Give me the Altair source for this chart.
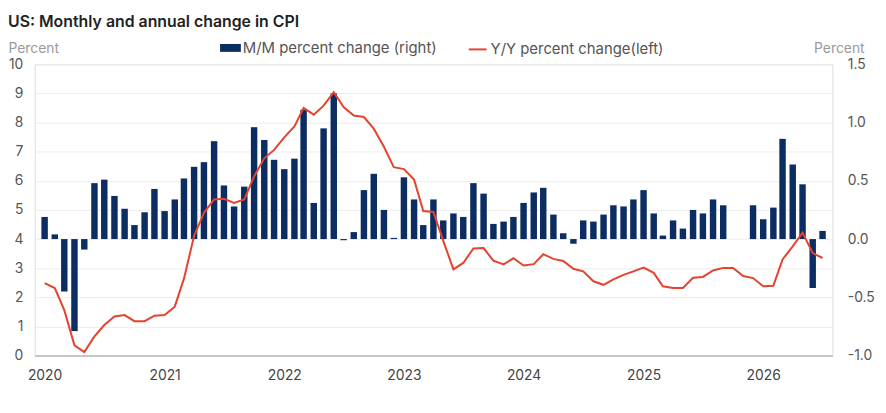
import altair as alt
import pandas as pd

# Monthly data, Jan 2020 .. Jul 2026
months = pd.date_range("2020-01-01", "2026-07-01", freq="MS").strftime("%Y-%m-%d").tolist()

# M/M percent change (right axis)
mm_2020 = [0.19, 0.04, -0.45, -0.79, -0.09, 0.48, 0.51, 0.37, 0.26, 0.12, 0.23, 0.43]
mm_2021 = [0.24, 0.34, 0.52, 0.62, 0.66, 0.84, 0.46, 0.28, 0.45, 0.96, 0.85, 0.68]
mm_2022 = [0.60, 0.69, 1.11, 0.31, 0.95, 1.25, -0.01, 0.06, 0.42, 0.56, 0.25, 0.01]
mm_2023 = [0.53, 0.34, 0.12, 0.34, 0.16, 0.22, 0.19, 0.48, 0.39, 0.13, 0.15, 0.19]
mm_2024 = [0.31, 0.40, 0.44, 0.21, 0.05, -0.04, 0.16, 0.15, 0.21, 0.29, 0.28, 0.34]
mm_2025 = [0.42, 0.22, 0.03, 0.16, 0.09, 0.25, 0.22, 0.34, 0.29, None, None, 0.29]
mm_2026 = [0.17, 0.27, 0.86, 0.64, 0.47, -0.42, 0.07]

# Y/Y percent change (left axis)
yy_2020 = [2.49, 2.32, 1.56, 0.35, 0.12, 0.66, 1.05, 1.34, 1.39, 1.18, 1.18, 1.37]
yy_2021 = [1.39, 1.68, 2.64, 4.11, 4.90, 5.36, 5.38, 5.24, 5.36, 6.15, 6.77, 7.06]
yy_2022 = [7.49, 7.87, 8.50, 8.27, 8.58, 9.04, 8.53, 8.24, 8.19, 7.79, 7.17, 6.47]
yy_2023 = [6.40, 6.04, 4.96, 4.93, 3.94, 2.96, 3.18, 3.68, 3.69, 3.26, 3.13, 3.34]
yy_2024 = [3.09, 3.14, 3.48, 3.32, 3.25, 2.98, 2.89, 2.55, 2.43, 2.62, 2.77, 2.89]
yy_2025 = [3.02, 2.84, 2.38, 2.32, 2.32, 2.67, 2.70, 2.92, 3.01, 3.01, 2.73, 2.66]
yy_2026 = [2.38, 2.40, 3.30, 3.75, 4.22, 3.52, 3.35]

mm = mm_2020 + mm_2021 + mm_2022 + mm_2023 + mm_2024 + mm_2025 + mm_2026
yy = yy_2020 + yy_2021 + yy_2022 + yy_2023 + yy_2024 + yy_2025 + yy_2026

years = [2020, 2021, 2022, 2023, 2024, 2025, 2026]
right_ticks = [-1.0, -0.5, 0.0, 0.5, 1.0, 1.5]
left_ticks = list(range(0, 11))

MM_LABEL = "M/M percent change (right)"
YY_LABEL = "Y/Y percent change(left)"

df = pd.DataFrame({"date": months, "mm": mm, "yy": yy})
df["s_mm"] = MM_LABEL
df["s_yy"] = YY_LABEL

FONT = "Inter"
NAVY = "#0b2d62"
RED = "#e5432f"
LABEL_SIZE = 14

x_enc = alt.X(
    "date:T",
    scale=alt.Scale(
        type="utc",
        domain=[
            alt.DateTime(year=2019, month=12, date=17, utc=True),
            alt.DateTime(year=2026, month=7, date=16, utc=True),
        ],
    ),
    axis=alt.Axis(
        values=[alt.DateTime(year=y, month=1, date=1, utc=True) for y in years],
        format="%Y",
        title=None,
        grid=False,
        ticks=False,
        domain=True,
        domainColor="#b8b8b8",
        domainWidth=1.5,
        labelColor="#444444",
        labelFontSize=LABEL_SIZE,
        labelPadding=13,
        labelFont=FONT,
    ),
)

bars = alt.Chart(df).mark_bar(size=6.5).encode(
    x=x_enc,
    y=alt.Y(
        "mm:Q",
        scale=alt.Scale(domain=[-1.0, 1.5], nice=False, zero=False),
        axis=alt.Axis(
            orient="right",
            values=right_ticks,
            labelExpr="(datum.value < 0 ? '-' : '') + format(abs(datum.value), '.1f')",
            grid=False,
            ticks=False,
            domain=False,
            labelColor="#555555",
            labelFontSize=LABEL_SIZE,
            labelPadding=15,
            labelFont=FONT,
            title="Percent",
            titleAngle=0,
            titleAlign="right",
            titleBaseline="alphabetic",
            titleX=32,
            titleY=-12,
            titleColor="#9a9a9a",
            titleFontWeight="normal",
            titleFontSize=LABEL_SIZE,
            titleFont=FONT,
        ),
    ),
    fill=alt.Fill(
        "s_mm:N",
        scale=alt.Scale(domain=[MM_LABEL], range=[NAVY]),
        legend=alt.Legend(
            orient="none",
            legendX=187,
            legendY=-27,
            title=None,
            symbolType="M-1,-0.38H1V0.38H-1Z",
            symbolSize=441,
            symbolStrokeWidth=0,
            labelFontSize=15,
            labelColor="#555555",
            labelFont=FONT,
            labelOffset=2,
            labelLimit=0,
        ),
    ),
)

line = alt.Chart(df).mark_line(strokeWidth=2).encode(
    x=x_enc,
    y=alt.Y(
        "yy:Q",
        scale=alt.Scale(domain=[0, 10], nice=False),
        axis=alt.Axis(
            orient="left",
            values=left_ticks,
            grid=True,
            gridColor="#ececec",
            gridWidth=1,
            ticks=False,
            domain=False,
            labelColor="#555555",
            labelFontSize=LABEL_SIZE,
            labelPadding=12,
            labelFont=FONT,
            title="Percent",
            titleAngle=0,
            titleAlign="left",
            titleBaseline="alphabetic",
            titleX=-27,
            titleY=-12,
            titleColor="#9a9a9a",
            titleFontWeight="normal",
            titleFontSize=LABEL_SIZE,
            titleFont=FONT,
        ),
    ),
    stroke=alt.Stroke(
        "s_yy:N",
        scale=alt.Scale(domain=[YY_LABEL], range=[RED]),
        legend=alt.Legend(
            orient="none",
            legendX=437,
            legendY=-25,
            title=None,
            symbolType="stroke",
            symbolSize=324,
            symbolStrokeWidth=2,
            labelFontSize=15,
            labelColor="#555555",
            labelFont=FONT,
            labelOffset=3,
            labelLimit=0,
        ),
    ),
)

chart = (
    alt.layer(bars, line)
    .resolve_scale(y="independent", fill="independent", stroke="independent")
    .properties(
        width=805,
        height=294,
        autosize=alt.AutoSizeParams(type="none"),
        padding={"left": 27, "top": 55, "right": 46, "bottom": 40},
        title=alt.TitleParams(
            "US: Monthly and annual change in CPI",
            anchor="start",
            frame="group",
            dx=-27,
            offset=8,
            fontSize=16,
            fontWeight=600,
            color="#222222",
            font=FONT,
        ),
    )
    .configure_view(stroke=None)
    .configure(background="white")
)

chart.save("out.html", embed_options={"renderer": "svg", "actions": False})
